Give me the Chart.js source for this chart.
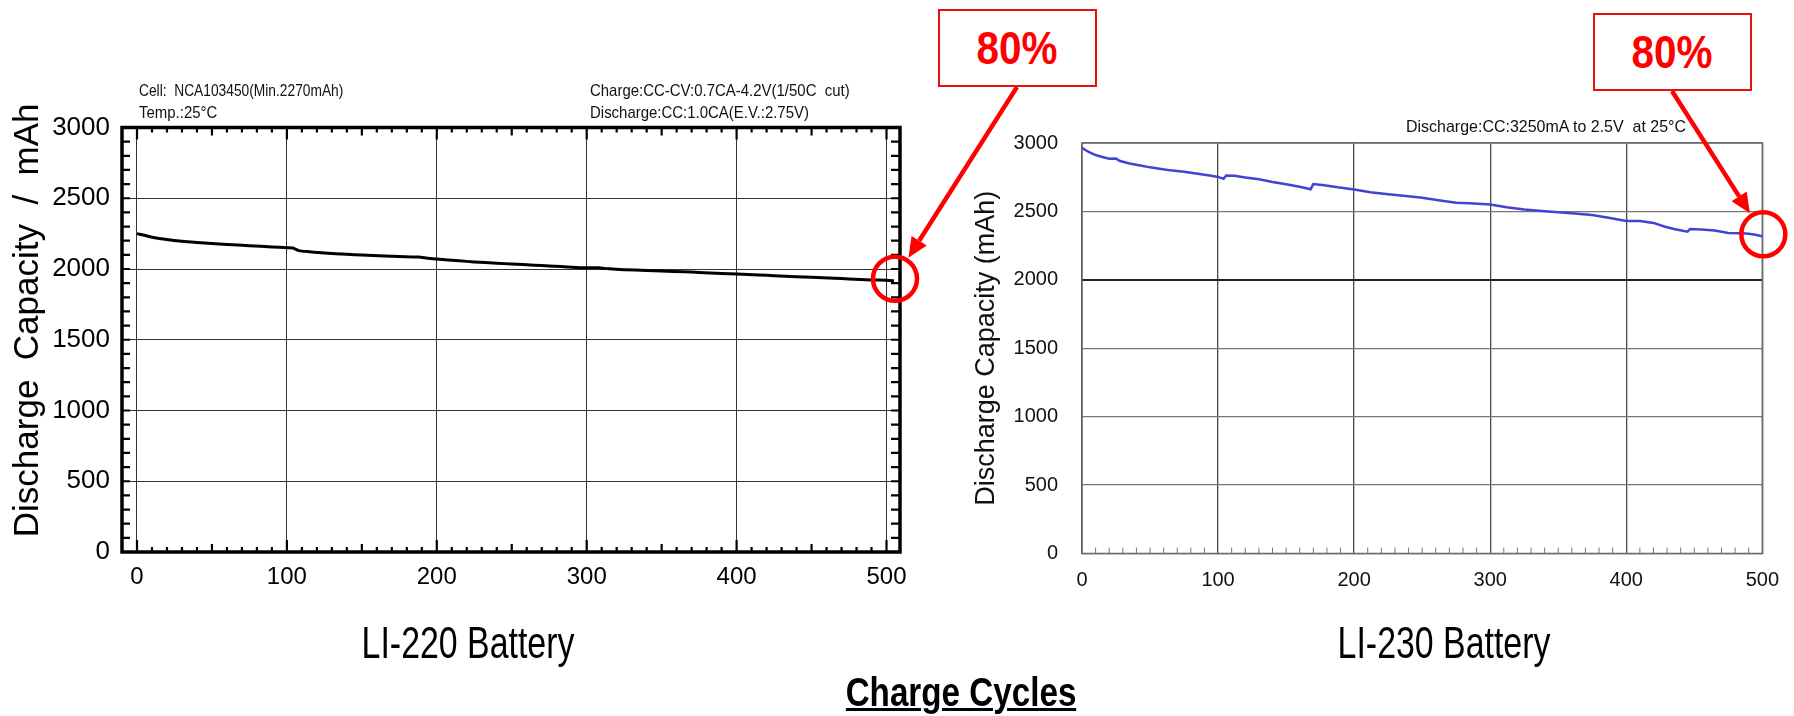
<!DOCTYPE html>
<html>
<head>
<meta charset="utf-8">
<script src="https://cdn.jsdelivr.net/npm/chart.js@4.4.1/dist/chart.umd.min.js"></script>
<style>
  html, body { margin: 0; padding: 0; background: #fff; }
  body { width: 1794px; height: 716px; position: relative; overflow: hidden; font-family: "Liberation Sans", Arial, sans-serif; }
  #leftWrap { position: absolute; left: 0; top: 0; width: 920px; height: 716px; }
  #rightWrap { position: absolute; left: 920px; top: 0; width: 874px; height: 716px; }
  .note { position: absolute; font-size: 17px; line-height: 1; color: #111; white-space: pre;
          transform: scaleX(0.88); transform-origin: left center; }
  .box80 { position: absolute; box-sizing: border-box; border: 2.5px solid #e81010; background: #fff;
           color: #f00; font-weight: bold; font-size: 47px; text-align: center; }
  .box80 span { display: inline-block; transform: scaleX(0.86); }
  .caption { position: absolute; font-size: 44px; line-height: 1; color: #000; white-space: nowrap;
             transform: translateX(-50%) scaleX(0.77); }
  #overlay { position: absolute; left: 0; top: 0; }
</style>
</head>
<body>
<div id="leftWrap"><canvas id="leftChart"></canvas></div>
<div id="rightWrap"><canvas id="rightChart"></canvas></div>

<div class="note" style="left:139px; top:82px; transform:scaleX(0.81);">Cell:  NCA103450(Min.2270mAh)</div>
<div class="note" style="left:139px; top:104px;">Temp.:25°C</div>
<div class="note" style="left:590px; top:82px;">Charge:CC-CV:0.7CA-4.2V(1/50C  cut)</div>
<div class="note" style="left:590px; top:104px;">Discharge:CC:1.0CA(E.V.:2.75V)</div>
<div class="note" style="left:1406px; top:118px; transform:scaleX(0.94);">Discharge:CC:3250mA to 2.5V  at 25°C</div>

<div class="caption" style="left:468px; top:621px;">LI-220 Battery</div>
<div class="caption" style="left:1444px; top:621px;">LI-230 Battery</div>
<div class="caption" style="left:961px; top:672px; font-size:41px; font-weight:bold; text-decoration:underline; text-decoration-thickness:3px; transform:translateX(-50%) scaleX(0.81);">Charge Cycles</div>

<div class="box80" style="left:938px; top:9px; width:159px; height:78px; line-height:73px;"><span>80%</span></div>
<div class="box80" style="left:1593px; top:13px; width:159px; height:78px; line-height:73px;"><span>80%</span></div>

<svg id="overlay" width="1794" height="716"></svg>

<script>
// LI-220 (left) capacity curve
const leftCycles = [0, 5, 10, 20, 30, 40, 50, 60, 75, 90, 100, 104, 108, 115, 125, 140, 150, 165, 175, 188, 192,
    200, 215, 225, 240, 250, 265, 275, 290, 300, 308, 315, 325, 340, 350, 365, 375, 390, 400, 415, 425, 440,
    450, 465, 475, 490, 500, 505];
const leftCapacity = [2250, 2238, 2225, 2208, 2196, 2188, 2181, 2174, 2165, 2156, 2150, 2148, 2130, 2122, 2113,
    2104, 2099, 2092, 2088, 2084, 2079, 2070, 2058, 2050, 2041, 2035, 2027, 2021, 2013, 2009, 2009, 2001, 1995,
    1990, 1986, 1980, 1976, 1969, 1965, 1958, 1953, 1946, 1941, 1935, 1930, 1923, 1920, 1917];

// LI-230 (right) capacity curve
const rightCycles = [0, 3, 6, 10, 15, 20, 25, 28, 35, 42, 50, 57, 65, 75, 85, 95, 100, 104, 106, 112, 120, 130,
    140, 150, 160, 168, 170, 178, 188, 200, 212, 225, 238, 250, 262, 275, 285, 300, 312, 325, 338, 350, 362,
    375, 388, 400, 410, 420, 428, 435, 445, 447, 455, 465, 475, 485, 490, 495, 500];
const rightCapacity = [2965, 2945, 2930, 2912, 2898, 2885, 2886, 2868, 2850, 2838, 2822, 2812, 2800, 2790, 2775,
    2760, 2752, 2738, 2762, 2760, 2748, 2735, 2715, 2698, 2680, 2662, 2700, 2692, 2676, 2660, 2640, 2626, 2612,
    2600, 2582, 2563, 2560, 2551, 2530, 2514, 2503, 2494, 2485, 2473, 2452, 2430, 2430, 2416, 2390, 2372, 2352,
    2372, 2368, 2360, 2343, 2340, 2336, 2330, 2318];

const cycleTicks = [0, 100, 200, 300, 400, 500];
const capacityTicks = [0, 500, 1000, 1500, 2000, 2500, 3000];

const FONT = '"Liberation Sans", Arial, sans-serif';

function toPoints(xs, ys) {
    return xs.map((x, i) => ({ x: x, y: ys[i] }));
}

const plainLabel = (v) => String(v);

// thick frame with small ticks on all four sides
const leftFramePlugin = {
    id: 'leftFrame',
    afterDatasetsDraw(chart) {
        const { ctx, chartArea: a, scales: { x, y } } = chart;
        ctx.save();
        ctx.strokeStyle = '#000';
        ctx.lineWidth = 2.2;
        ctx.beginPath();
        for (let v = 0; v <= 500; v += 10) {
            const px = x.getPixelForValue(v);
            const len = v % 100 === 0 ? 12 : (v % 50 === 0 ? 8 : 5);
            ctx.moveTo(px, a.bottom); ctx.lineTo(px, a.bottom - len);
            ctx.moveTo(px, a.top); ctx.lineTo(px, a.top + len);
        }
        for (let v = 100; v < 3000; v += 100) {
            const py = y.getPixelForValue(v);
            ctx.moveTo(a.left, py); ctx.lineTo(a.left + 8, py);
            ctx.moveTo(a.right, py); ctx.lineTo(a.right - 9, py);
        }
        ctx.stroke();
        ctx.lineWidth = 3.5;
        ctx.strokeRect(a.left, a.top, a.right - a.left, a.bottom - a.top);
        ctx.restore();
    }
};

// thin gray frame, minor ticks along the bottom
const rightFramePlugin = {
    id: 'rightFrame',
    beforeDatasetsDraw(chart) {
        const { ctx, chartArea: a, scales: { x } } = chart;
        ctx.save();
        ctx.strokeStyle = '#777';
        ctx.lineWidth = 1;
        ctx.beginPath();
        for (let v = 10; v < 500; v += 10) {
            if (v % 100 === 0) continue;
            const px = x.getPixelForValue(v);
            ctx.moveTo(px, a.bottom); ctx.lineTo(px, a.bottom - 6);
        }
        ctx.stroke();
        ctx.strokeStyle = '#6a6a6a';
        ctx.lineWidth = 1.5;
        ctx.strokeRect(a.left, a.top, a.right - a.left, a.bottom - a.top);
        ctx.restore();
    }
};

const leftChart = new Chart(document.getElementById('leftChart'), {
    type: 'line',
    data: {
        datasets: [{
            data: toPoints(leftCycles, leftCapacity),
            borderColor: '#000',
            borderWidth: 3,
            pointRadius: 0,
            tension: 0.2
        }]
    },
    options: {
        animation: false,
        responsive: true,
        maintainAspectRatio: false,
        layout: { padding: { left: 0, right: 20, top: 127.5, bottom: 124 } },
        plugins: { legend: { display: false }, tooltip: { enabled: false } },
        scales: {
            x: {
                type: 'linear', min: -10, max: 509,
                afterBuildTicks: (s) => { s.ticks = cycleTicks.map(v => ({ value: v })); },
                afterFit: (s) => { s.height = 40; },
                grid: { color: '#333', lineWidth: 1, drawTicks: false },
                border: { display: false },
                ticks: { color: '#000', font: { family: FONT, size: 24 }, padding: 11, autoSkip: false, maxRotation: 0, callback: plainLabel }
            },
            y: {
                type: 'linear', min: 0, max: 3000,
                afterBuildTicks: (s) => { s.ticks = capacityTicks.map(v => ({ value: v })); },
                afterFit: (s) => { s.width = 122; },
                grid: { color: '#333', lineWidth: 1, drawTicks: false },
                border: { display: false },
                ticks: { color: '#000', font: { family: FONT, size: 26 }, padding: 12, autoSkip: false, callback: plainLabel },
                title: {
                    display: true,
                    // leading spaces lift the centred title a little, as in the picture
                    text: '    Discharge  Capacity  /  mAh',
                    color: '#000',
                    font: { family: FONT, size: 35 },
                    padding: { top: 7, bottom: 0 }
                }
            }
        }
    },
    plugins: [leftFramePlugin]
});

const rightChart = new Chart(document.getElementById('rightChart'), {
    type: 'line',
    data: {
        datasets: [{
            data: toPoints(rightCycles, rightCapacity),
            borderColor: '#4343d2',
            borderWidth: 2.5,
            pointRadius: 0,
            tension: 0
        }]
    },
    options: {
        animation: false,
        responsive: true,
        maintainAspectRatio: false,
        layout: { padding: { left: 0, right: 17, top: 143, bottom: 122.5 } },
        plugins: { legend: { display: false }, tooltip: { enabled: false } },
        scales: {
            x: {
                type: 'linear', min: 0, max: 500,
                afterBuildTicks: (s) => { s.ticks = cycleTicks.map(v => ({ value: v })); },
                afterFit: (s) => { s.height = 40; },
                grid: { color: '#4a4a4a', lineWidth: 1.3, drawTicks: false },
                border: { display: false },
                ticks: { color: '#111', font: { family: FONT, size: 20 }, padding: 15, autoSkip: false, maxRotation: 0, callback: plainLabel }
            },
            y: {
                type: 'linear', min: 0, max: 3000,
                afterBuildTicks: (s) => { s.ticks = capacityTicks.map(v => ({ value: v })); },
                afterFit: (s) => { s.width = 162; },
                grid: {
                    color: (c) => (c.tick && c.tick.value === 2000 ? '#222' : '#777'),
                    lineWidth: (c) => (c.tick && c.tick.value === 2000 ? 2 : 1.2),
                    drawTicks: false
                },
                border: { display: false },
                ticks: { color: '#111', font: { family: FONT, size: 20 }, padding: 24, autoSkip: false, callback: plainLabel },
                title: {
                    display: true,
                    text: 'Discharge Capacity (mAh)',
                    color: '#111',
                    font: { family: FONT, size: 27 },
                    padding: { top: 50, bottom: 0 }
                }
            }
        }
    },
    plugins: [rightFramePlugin]
});

// red circle on the last point, arrow from the "80%" box
function addCallout(chart, offsetX, xs, ys, boxX, boxY) {
    const svg = document.getElementById('overlay');
    const ns = 'http://www.w3.org/2000/svg';
    const n = xs.length - 1;
    const cx = offsetX + chart.scales.x.getPixelForValue(xs[n]) + 1;
    const cy = chart.scales.y.getPixelForValue(ys[n]) - 2;
    const r = 22;

    const circle = document.createElementNS(ns, 'circle');
    circle.setAttribute('cx', cx);
    circle.setAttribute('cy', cy);
    circle.setAttribute('r', r);
    circle.setAttribute('fill', 'none');
    circle.setAttribute('stroke', '#f00');
    circle.setAttribute('stroke-width', 4.5);
    svg.appendChild(circle);

    const dx = boxX - cx, dy = boxY - cy;
    const len = Math.sqrt(dx * dx + dy * dy);
    const ux = dx / len, uy = dy / len;
    const tipX = cx + ux * (r + 3), tipY = cy + uy * (r + 3);
    const headLen = 20, headW = 9;
    const baseX = tipX + ux * headLen, baseY = tipY + uy * headLen;

    const line = document.createElementNS(ns, 'line');
    line.setAttribute('x1', boxX);
    line.setAttribute('y1', boxY);
    line.setAttribute('x2', baseX);
    line.setAttribute('y2', baseY);
    line.setAttribute('stroke', '#f00');
    line.setAttribute('stroke-width', 4.5);
    svg.appendChild(line);

    const head = document.createElementNS(ns, 'polygon');
    const pts = [
        [tipX, tipY],
        [baseX - uy * headW, baseY + ux * headW],
        [baseX + uy * headW, baseY - ux * headW]
    ];
    head.setAttribute('points', pts.map(p => p.join(',')).join(' '));
    head.setAttribute('fill', '#f00');
    svg.appendChild(head);
}

addCallout(leftChart, 0, leftCycles, leftCapacity, 1017, 87);
addCallout(rightChart, 920, rightCycles, rightCapacity, 1672, 91);
</script>
</body>
</html>
